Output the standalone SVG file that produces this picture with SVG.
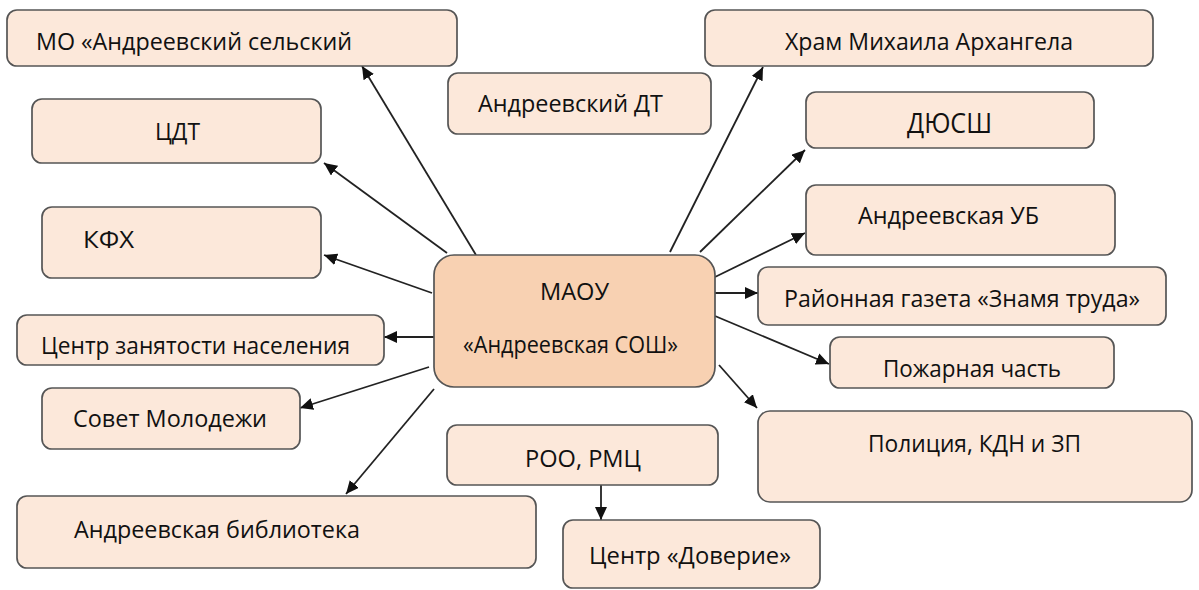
<svg xmlns="http://www.w3.org/2000/svg" width="1199" height="590" viewBox="0 0 1199 590">
<style>
.box{fill:#FCE8DA;stroke:#555;stroke-width:1.7}
.main{fill:#F8D1B2;stroke:#555;stroke-width:1.7}
.t{font-family:"Open Sans","Noto Sans",sans-serif;font-size:24px;fill:#111;text-anchor:middle}
.big{font-size:27px}
.c{stroke:#222;stroke-width:1.8;fill:none;marker-end:url(#ah)}
</style>
<defs>
<marker id="ah" markerUnits="userSpaceOnUse" markerWidth="14" markerHeight="12" refX="13" refY="6" orient="auto">
<path d="M0,0 L13,6 L0,12 z" fill="#111"/>
</marker>
</defs>
<rect width="1199" height="590" fill="#fff"/>
<g id="connectors">
<line class="c" x1="476" y1="255" x2="362" y2="66"/>
<line class="c" x1="447" y1="253" x2="324" y2="163"/>
<line class="c" x1="432" y1="293" x2="324" y2="255"/>
<line class="c" x1="434" y1="337" x2="384" y2="337"/>
<line class="c" x1="429" y1="367" x2="300" y2="408"/>
<line class="c" x1="434" y1="389" x2="346" y2="494"/>
<line class="c" x1="670" y1="252" x2="763" y2="67"/>
<line class="c" x1="700" y1="252" x2="805" y2="150"/>
<line class="c" x1="715" y1="277" x2="805" y2="233"/>
<line class="c" x1="715" y1="293" x2="758" y2="293"/>
<line class="c" x1="715" y1="316" x2="829" y2="364"/>
<line class="c" x1="719" y1="365" x2="757" y2="408"/>
<line class="c" x1="601" y1="485" x2="601" y2="520"/>
</g>
<g id="n-mo"><rect class="box" x="7" y="10" width="450" height="56" rx="10"/><text class="t" x="194" y="50" textLength="316" lengthAdjust="spacingAndGlyphs">МО «Андреевский сельский</text></g>
<g id="n-dt"><rect class="box" x="448" y="73" width="263" height="61" rx="10"/><text class="t" x="570.5" y="112" textLength="185" lengthAdjust="spacingAndGlyphs">Андреевский ДТ</text></g>
<g id="n-cdt"><rect class="box" x="32" y="99" width="289" height="64" rx="10"/><text class="t" x="177.5" y="140" textLength="45" lengthAdjust="spacingAndGlyphs">ЦДТ</text></g>
<g id="n-kfh"><rect class="box" x="42" y="207" width="279" height="71" rx="10"/><text class="t" x="108.5" y="248" textLength="51" lengthAdjust="spacingAndGlyphs">КФХ</text></g>
<g id="n-hram"><rect class="box" x="705" y="10" width="448" height="56" rx="10"/><text class="t" x="929" y="50" textLength="288" lengthAdjust="spacingAndGlyphs">Храм Михаила Архангела</text></g>
<g id="n-dyussh"><rect class="box" x="806" y="92" width="288" height="56" rx="10"/><text class="t big" x="949.5" y="133" textLength="85" lengthAdjust="spacingAndGlyphs">ДЮСШ</text></g>
<g id="n-ub"><rect class="box" x="806" y="185" width="309" height="70" rx="10"/><text class="t" x="948.5" y="224" textLength="181" lengthAdjust="spacingAndGlyphs">Андреевская УБ</text></g>
<g id="n-gazeta"><rect class="box" x="758" y="267" width="408" height="58" rx="10"/><text class="t" x="962" y="307" textLength="356" lengthAdjust="spacingAndGlyphs">Районная газета «Знамя труда»</text></g>
<g id="n-czn"><rect class="box" x="17" y="315" width="367" height="50" rx="10"/><text class="t" x="195.5" y="354" textLength="309" lengthAdjust="spacingAndGlyphs">Центр занятости населения</text></g>
<g id="n-sovet"><rect class="box" x="42" y="388" width="258" height="61" rx="10"/><text class="t" x="170" y="427" textLength="194" lengthAdjust="spacingAndGlyphs">Совет Молодежи</text></g>
<g id="n-pozhar"><rect class="box" x="830" y="337" width="284" height="51" rx="10"/><text class="t" x="972" y="377" textLength="178" lengthAdjust="spacingAndGlyphs">Пожарная часть</text></g>
<g id="n-police"><rect class="box" x="758" y="411" width="434" height="91" rx="12"/><text class="t" x="974.5" y="452" textLength="213" lengthAdjust="spacingAndGlyphs">Полиция, КДН и ЗП</text></g>
<g id="n-roo"><rect class="box" x="447" y="425" width="271" height="60" rx="10"/><text class="t" x="583" y="467" textLength="116" lengthAdjust="spacingAndGlyphs">РОО, РМЦ</text></g>
<g id="n-lib"><rect class="box" x="17" y="496" width="519" height="72" rx="10"/><text class="t" x="217" y="538" textLength="286" lengthAdjust="spacingAndGlyphs">Андреевская библиотека</text></g>
<g id="n-doverie"><rect class="box" x="563" y="520" width="257" height="68" rx="10"/><text class="t" x="690" y="564" textLength="202" lengthAdjust="spacingAndGlyphs">Центр «Доверие»</text></g>
<g id="n-main"><rect class="main" x="434" y="255" width="281" height="132" rx="20"/><text class="t" x="574.5" y="300" textLength="69" lengthAdjust="spacingAndGlyphs">МАОУ</text><text class="t" x="570.5" y="353" textLength="215" lengthAdjust="spacingAndGlyphs">«Андреевская СОШ»</text></g>
</svg>
